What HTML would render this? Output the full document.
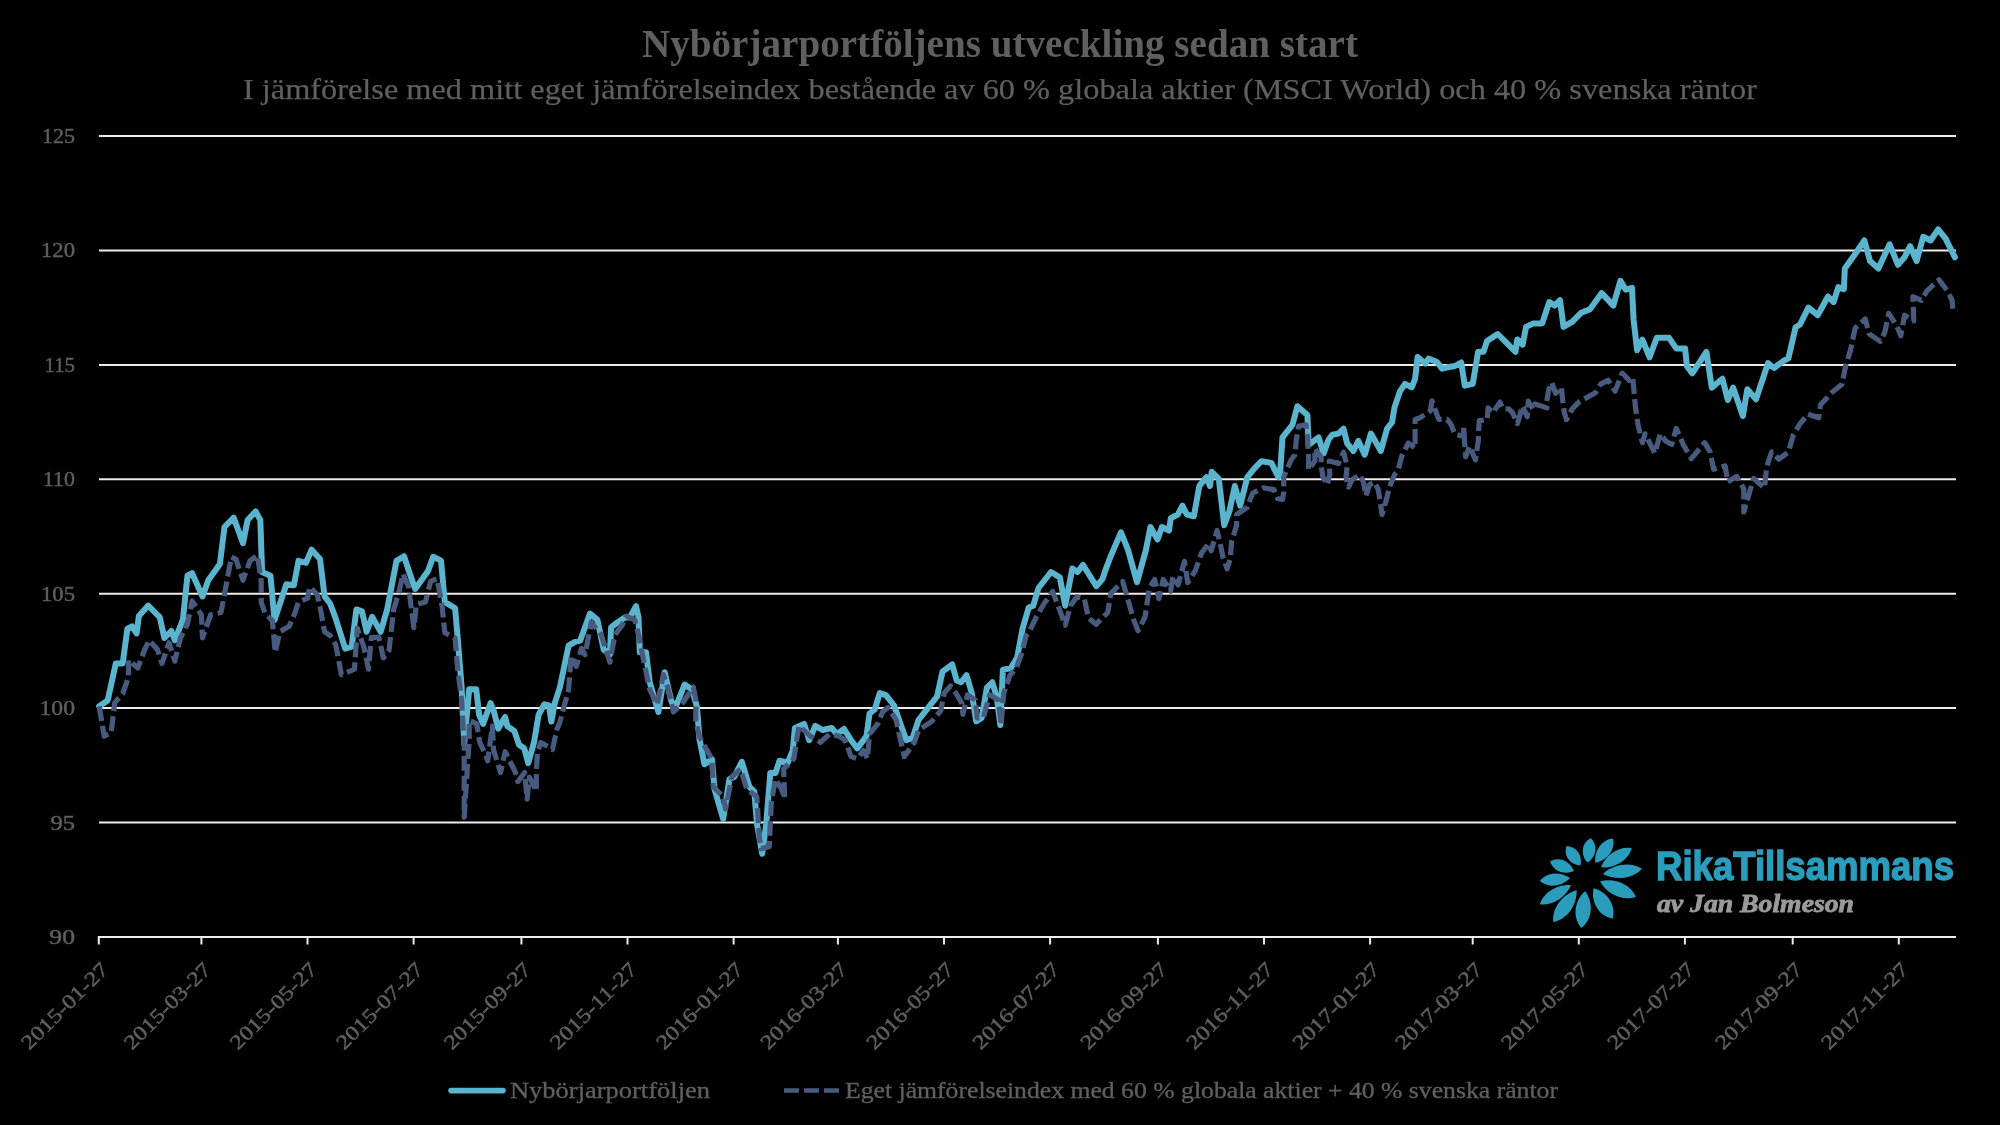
<!DOCTYPE html>
<html><head><meta charset="utf-8"><title>Nybörjarportföljens utveckling sedan start</title>
<style>
html,body{margin:0;padding:0;background:#000;}
body{width:2000px;height:1125px;overflow:hidden;}
svg{display:block;font-family:"Liberation Serif",serif;will-change:transform;}
</style></head><body>
<svg width="2000" height="1125" viewBox="0 0 2000 1125">
<rect width="2000" height="1125" fill="#000"/>
<line x1="99" y1="822.6" x2="1956" y2="822.6" stroke="#f0ece9" stroke-width="2"/>
<line x1="99" y1="708.1" x2="1956" y2="708.1" stroke="#f0ece9" stroke-width="2"/>
<line x1="99" y1="593.7" x2="1956" y2="593.7" stroke="#f0ece9" stroke-width="2"/>
<line x1="99" y1="479.3" x2="1956" y2="479.3" stroke="#f0ece9" stroke-width="2"/>
<line x1="99" y1="364.9" x2="1956" y2="364.9" stroke="#f0ece9" stroke-width="2"/>
<line x1="99" y1="250.4" x2="1956" y2="250.4" stroke="#f0ece9" stroke-width="2"/>
<line x1="99" y1="136.0" x2="1956" y2="136.0" stroke="#f0ece9" stroke-width="2"/>
<line x1="98" y1="937" x2="1956" y2="937" stroke="#f0ece9" stroke-width="2"/>
<line x1="98.8" y1="936" x2="98.8" y2="944.5" stroke="#f0ece9" stroke-width="2"/>
<line x1="201.4" y1="936" x2="201.4" y2="944.5" stroke="#f0ece9" stroke-width="2"/>
<line x1="307.5" y1="936" x2="307.5" y2="944.5" stroke="#f0ece9" stroke-width="2"/>
<line x1="413.6" y1="936" x2="413.6" y2="944.5" stroke="#f0ece9" stroke-width="2"/>
<line x1="521.4" y1="936" x2="521.4" y2="944.5" stroke="#f0ece9" stroke-width="2"/>
<line x1="627.5" y1="936" x2="627.5" y2="944.5" stroke="#f0ece9" stroke-width="2"/>
<line x1="733.6" y1="936" x2="733.6" y2="944.5" stroke="#f0ece9" stroke-width="2"/>
<line x1="837.9" y1="936" x2="837.9" y2="944.5" stroke="#f0ece9" stroke-width="2"/>
<line x1="944.0" y1="936" x2="944.0" y2="944.5" stroke="#f0ece9" stroke-width="2"/>
<line x1="1050.1" y1="936" x2="1050.1" y2="944.5" stroke="#f0ece9" stroke-width="2"/>
<line x1="1157.9" y1="936" x2="1157.9" y2="944.5" stroke="#f0ece9" stroke-width="2"/>
<line x1="1264.0" y1="936" x2="1264.0" y2="944.5" stroke="#f0ece9" stroke-width="2"/>
<line x1="1370.1" y1="936" x2="1370.1" y2="944.5" stroke="#f0ece9" stroke-width="2"/>
<line x1="1472.7" y1="936" x2="1472.7" y2="944.5" stroke="#f0ece9" stroke-width="2"/>
<line x1="1578.8" y1="936" x2="1578.8" y2="944.5" stroke="#f0ece9" stroke-width="2"/>
<line x1="1684.9" y1="936" x2="1684.9" y2="944.5" stroke="#f0ece9" stroke-width="2"/>
<line x1="1792.7" y1="936" x2="1792.7" y2="944.5" stroke="#f0ece9" stroke-width="2"/>
<line x1="1898.8" y1="936" x2="1898.8" y2="944.5" stroke="#f0ece9" stroke-width="2"/>
<text x="75" y="944.0" text-anchor="end" font-size="21" fill="#5f5f5f" stroke="#5f5f5f" stroke-width="0.45" textLength="25.7" lengthAdjust="spacingAndGlyphs">90</text>
<text x="75" y="829.6" text-anchor="end" font-size="21" fill="#5f5f5f" stroke="#5f5f5f" stroke-width="0.45" textLength="24.5" lengthAdjust="spacingAndGlyphs">95</text>
<text x="75" y="715.1" text-anchor="end" font-size="21" fill="#5f5f5f" stroke="#5f5f5f" stroke-width="0.45" textLength="35.5" lengthAdjust="spacingAndGlyphs">100</text>
<text x="75" y="600.7" text-anchor="end" font-size="21" fill="#5f5f5f" stroke="#5f5f5f" stroke-width="0.45" textLength="34" lengthAdjust="spacingAndGlyphs">105</text>
<text x="75" y="486.3" text-anchor="end" font-size="21" fill="#5f5f5f" stroke="#5f5f5f" stroke-width="0.45" textLength="32" lengthAdjust="spacingAndGlyphs">110</text>
<text x="75" y="371.9" text-anchor="end" font-size="21" fill="#5f5f5f" stroke="#5f5f5f" stroke-width="0.45" textLength="30.5" lengthAdjust="spacingAndGlyphs">115</text>
<text x="75" y="257.4" text-anchor="end" font-size="21" fill="#5f5f5f" stroke="#5f5f5f" stroke-width="0.45" textLength="34" lengthAdjust="spacingAndGlyphs">120</text>
<text x="75" y="143.0" text-anchor="end" font-size="21" fill="#5f5f5f" stroke="#5f5f5f" stroke-width="0.45" textLength="33" lengthAdjust="spacingAndGlyphs">125</text>
<text x="109.6" y="970.6" text-anchor="end" font-size="20.5" fill="#5f5f5f" stroke="#5f5f5f" stroke-width="0.45" transform="rotate(-45 109.6 970.6)" textLength="113.5" lengthAdjust="spacingAndGlyphs">2015-01-27</text>
<text x="212.2" y="970.6" text-anchor="end" font-size="20.5" fill="#5f5f5f" stroke="#5f5f5f" stroke-width="0.45" transform="rotate(-45 212.2 970.6)" textLength="113.5" lengthAdjust="spacingAndGlyphs">2015-03-27</text>
<text x="318.3" y="970.6" text-anchor="end" font-size="20.5" fill="#5f5f5f" stroke="#5f5f5f" stroke-width="0.45" transform="rotate(-45 318.3 970.6)" textLength="113.5" lengthAdjust="spacingAndGlyphs">2015-05-27</text>
<text x="424.4" y="970.6" text-anchor="end" font-size="20.5" fill="#5f5f5f" stroke="#5f5f5f" stroke-width="0.45" transform="rotate(-45 424.4 970.6)" textLength="113.5" lengthAdjust="spacingAndGlyphs">2015-07-27</text>
<text x="532.2" y="970.6" text-anchor="end" font-size="20.5" fill="#5f5f5f" stroke="#5f5f5f" stroke-width="0.45" transform="rotate(-45 532.2 970.6)" textLength="113.5" lengthAdjust="spacingAndGlyphs">2015-09-27</text>
<text x="638.3" y="970.6" text-anchor="end" font-size="20.5" fill="#5f5f5f" stroke="#5f5f5f" stroke-width="0.45" transform="rotate(-45 638.3 970.6)" textLength="113.5" lengthAdjust="spacingAndGlyphs">2015-11-27</text>
<text x="744.4" y="970.6" text-anchor="end" font-size="20.5" fill="#5f5f5f" stroke="#5f5f5f" stroke-width="0.45" transform="rotate(-45 744.4 970.6)" textLength="113.5" lengthAdjust="spacingAndGlyphs">2016-01-27</text>
<text x="848.7" y="970.6" text-anchor="end" font-size="20.5" fill="#5f5f5f" stroke="#5f5f5f" stroke-width="0.45" transform="rotate(-45 848.7 970.6)" textLength="113.5" lengthAdjust="spacingAndGlyphs">2016-03-27</text>
<text x="954.8" y="970.6" text-anchor="end" font-size="20.5" fill="#5f5f5f" stroke="#5f5f5f" stroke-width="0.45" transform="rotate(-45 954.8 970.6)" textLength="113.5" lengthAdjust="spacingAndGlyphs">2016-05-27</text>
<text x="1060.9" y="970.6" text-anchor="end" font-size="20.5" fill="#5f5f5f" stroke="#5f5f5f" stroke-width="0.45" transform="rotate(-45 1060.9 970.6)" textLength="113.5" lengthAdjust="spacingAndGlyphs">2016-07-27</text>
<text x="1168.7" y="970.6" text-anchor="end" font-size="20.5" fill="#5f5f5f" stroke="#5f5f5f" stroke-width="0.45" transform="rotate(-45 1168.7 970.6)" textLength="113.5" lengthAdjust="spacingAndGlyphs">2016-09-27</text>
<text x="1274.8" y="970.6" text-anchor="end" font-size="20.5" fill="#5f5f5f" stroke="#5f5f5f" stroke-width="0.45" transform="rotate(-45 1274.8 970.6)" textLength="113.5" lengthAdjust="spacingAndGlyphs">2016-11-27</text>
<text x="1380.9" y="970.6" text-anchor="end" font-size="20.5" fill="#5f5f5f" stroke="#5f5f5f" stroke-width="0.45" transform="rotate(-45 1380.9 970.6)" textLength="113.5" lengthAdjust="spacingAndGlyphs">2017-01-27</text>
<text x="1483.5" y="970.6" text-anchor="end" font-size="20.5" fill="#5f5f5f" stroke="#5f5f5f" stroke-width="0.45" transform="rotate(-45 1483.5 970.6)" textLength="113.5" lengthAdjust="spacingAndGlyphs">2017-03-27</text>
<text x="1589.6" y="970.6" text-anchor="end" font-size="20.5" fill="#5f5f5f" stroke="#5f5f5f" stroke-width="0.45" transform="rotate(-45 1589.6 970.6)" textLength="113.5" lengthAdjust="spacingAndGlyphs">2017-05-27</text>
<text x="1695.7" y="970.6" text-anchor="end" font-size="20.5" fill="#5f5f5f" stroke="#5f5f5f" stroke-width="0.45" transform="rotate(-45 1695.7 970.6)" textLength="113.5" lengthAdjust="spacingAndGlyphs">2017-07-27</text>
<text x="1803.5" y="970.6" text-anchor="end" font-size="20.5" fill="#5f5f5f" stroke="#5f5f5f" stroke-width="0.45" transform="rotate(-45 1803.5 970.6)" textLength="113.5" lengthAdjust="spacingAndGlyphs">2017-09-27</text>
<text x="1909.6" y="970.6" text-anchor="end" font-size="20.5" fill="#5f5f5f" stroke="#5f5f5f" stroke-width="0.45" transform="rotate(-45 1909.6 970.6)" textLength="113.5" lengthAdjust="spacingAndGlyphs">2017-11-27</text>
<polyline points="99.2,706.2 107.7,700.4 115.8,663.4 122.7,663.4 127.4,628.7 132.0,626.4 136.6,633.4 138.9,616.0 148.2,605.6 159.7,617.2 164.4,638.0 171.3,631.0 174.8,640.3 182.9,619.5 187.5,575.5 192.1,573.2 202.5,596.4 208.3,580.2 219.9,564.0 224.5,527.0 233.7,517.7 243.0,543.2 247.6,520.0 255.6,511.5 260.3,519.9 262.1,572.1 270.5,575.8 274.5,620.0 286.4,584.2 293.9,585.2 298.5,560.9 306.0,562.8 311.6,549.7 320.0,559.0 324.6,596.4 330.2,603.8 335.8,618.8 345.2,648.6 351.7,646.7 356.4,609.4 362.0,611.3 366.6,631.8 372.2,616.9 380.6,631.8 387.2,609.4 396.5,560.9 404.0,556.2 410.5,575.8 415.2,589.0 428.0,571.0 433.2,556.8 441.0,560.6 444.8,601.9 455.1,608.3 457.7,638.0 461.6,687.0 464.2,743.7 469.2,689.2 476.2,689.2 479.1,714.7 483.1,723.9 490.6,703.1 493.5,710.1 498.2,728.6 505.1,717.0 507.4,726.2 514.3,730.9 519.0,744.7 524.2,748.2 528.2,763.2 534.0,742.4 538.6,714.7 544.4,704.3 549.0,705.4 551.3,721.6 554.8,703.1 560.0,686.9 568.6,645.7 575.0,641.9 580.2,640.6 590.0,613.6 597.4,619.9 603.7,649.7 609.9,654.7 611.1,627.3 617.4,622.4 624.8,617.4 629.8,617.4 636.0,606.2 638.5,617.4 639.8,652.2 646.0,652.2 649.7,682.1 658.4,712.0 664.7,672.2 670.9,699.5 674.6,709.5 684.6,684.6 692.0,689.6 697.0,707.0 699.5,739.4 704.5,764.3 712.0,759.3 714.5,789.2 723.2,819.0 729.4,779.2 734.4,776.7 741.8,761.8 749.3,786.7 754.3,791.6 757.0,824.1 762.2,853.7 766.2,824.1 770.3,773.0 775.5,773.0 779.5,760.7 787.7,762.7 792.8,750.5 794.9,728.0 804.1,723.9 809.2,740.2 815.3,725.9 822.5,730.0 831.7,728.0 836.8,734.1 844.0,729.0 851.1,740.2 857.3,748.4 866.5,736.1 869.5,713.6 874.7,709.5 879.8,693.2 885.9,695.2 894.1,705.5 901.2,725.9 906.4,740.2 912.5,738.2 918.6,719.8 930.0,705.4 937.1,696.5 942.5,671.6 952.2,664.5 956.7,680.5 961.1,682.3 966.5,675.2 971.8,693.0 976.2,721.4 981.6,717.9 986.9,687.6 992.3,682.3 996.7,696.5 1000.3,725.0 1002.9,669.8 1010.9,668.1 1017.2,657.4 1022.5,628.9 1028.7,607.6 1033.2,605.8 1038.5,588.0 1051.0,572.0 1059.8,577.4 1065.2,605.8 1072.3,568.5 1077.6,572.0 1083.0,564.9 1087.4,572.0 1096.3,586.2 1102.5,579.1 1105.0,571.4 1110.3,557.2 1121.0,532.3 1128.1,550.1 1137.0,582.1 1145.9,550.1 1150.4,527.0 1157.5,539.4 1161.9,527.0 1169.0,530.5 1170.8,518.1 1177.9,514.5 1182.4,505.6 1186.8,514.5 1193.9,516.3 1199.3,486.0 1206.4,477.2 1210.0,486.0 1211.7,471.8 1218.8,478.9 1224.2,525.2 1229.5,511.0 1234.8,486.0 1240.2,505.6 1247.3,477.2 1254.4,468.3 1261.5,461.2 1271.3,462.9 1278.4,477.2 1280.0,474.7 1282.5,437.3 1292.4,424.9 1297.4,406.2 1307.4,414.9 1308.6,444.8 1318.6,437.3 1323.6,453.5 1328.5,439.8 1332.3,434.8 1338.5,433.6 1343.5,428.6 1347.2,443.5 1353.4,451.0 1358.4,441.0 1364.7,454.7 1370.9,433.6 1380.8,451.0 1387.1,428.6 1392.0,422.4 1394.5,407.4 1400.0,391.2 1405.0,383.9 1411.7,387.3 1415.1,378.8 1417.6,356.9 1425.2,363.6 1428.6,358.6 1437.0,362.0 1442.1,368.7 1448.9,367.0 1455.0,366.0 1461.2,362.5 1464.8,385.6 1472.8,383.8 1478.1,351.8 1483.5,351.8 1487.0,341.1 1497.7,334.0 1506.6,342.9 1515.5,351.8 1517.3,339.4 1522.6,344.7 1526.1,326.9 1533.3,323.4 1542.2,323.4 1549.3,302.0 1554.6,305.6 1560.0,300.2 1563.5,326.9 1572.4,321.6 1581.3,312.7 1590.2,309.1 1601.7,293.1 1613.3,305.6 1620.4,280.7 1625.8,289.6 1632.0,287.8 1633.6,320.0 1637.1,350.2 1642.4,339.6 1649.6,357.3 1656.7,337.8 1669.1,337.8 1676.2,348.4 1685.1,348.4 1686.9,366.2 1692.2,373.3 1706.4,352.0 1711.8,387.6 1722.4,378.7 1727.8,400.0 1733.1,387.6 1742.9,416.0 1747.3,389.3 1756.0,399.2 1768.0,363.2 1774.0,368.0 1783.6,360.8 1788.4,358.4 1795.6,327.2 1800.0,324.5 1808.4,307.7 1817.7,315.2 1828.0,296.5 1833.6,302.1 1838.3,287.2 1843.9,289.1 1844.8,268.5 1854.1,255.5 1864.4,240.5 1870.0,261.1 1878.4,268.5 1889.6,244.3 1898.0,264.8 1904.5,257.3 1910.1,246.1 1916.6,261.1 1923.2,236.8 1930.6,240.5 1938.1,229.3 1945.6,238.7 1954.9,257.3" fill="none" stroke="#5bb4cd" stroke-width="6" stroke-linejoin="round" stroke-linecap="round"/>
<polyline points="99.2,706.2 104.2,736.2 111.2,732.8 114.7,702.7 122.7,693.5 128.5,677.3 128.5,660.0 137.8,668.0 144.7,649.5 149.3,640.3 157.4,649.5 162.0,663.4 169.0,642.6 174.8,661.0 180.5,638.0 187.5,624.0 192.1,601.0 201.4,614.9 202.5,638.0 210.6,614.9 221.0,612.5 224.5,594.0 231.4,557.0 236.0,559.4 243.0,580.2 250.0,560.9 257.5,555.3 261.2,581.4 261.2,602.0 264.9,613.2 272.4,620.6 275.2,652.3 279.9,631.8 289.2,626.2 294.8,613.2 298.5,602.0 307.8,598.2 309.7,587.0 317.2,594.5 320.9,611.3 324.6,631.8 330.2,635.5 335.8,644.9 341.4,674.7 354.5,669.1 357.3,628.1 363.8,646.7 368.5,669.1 371.3,637.4 378.8,637.4 383.4,657.9 389.0,650.5 393.7,609.4 399.3,590.8 403.0,574.0 408.6,587.0 413.9,627.7 416.4,604.5 425.5,601.9 430.6,581.3 437.1,578.7 442.2,607.0 444.8,632.8 455.1,638.0 457.7,668.9 461.6,699.9 464.2,746.3 464.2,817.2 469.2,740.1 469.2,720.5 476.8,723.9 479.7,742.4 485.4,754.0 487.7,760.9 492.4,726.2 493.5,749.4 497.0,760.9 500.5,772.5 505.1,751.7 509.7,760.9 515.5,772.5 517.8,781.7 524.7,772.5 527.1,799.1 529.4,777.1 536.3,791.0 536.3,772.5 537.5,751.7 540.9,742.4 552.5,749.4 557.1,728.6 559.6,723.1 568.6,689.6 571.2,656.0 576.3,666.4 581.5,648.3 585.0,654.7 591.2,622.4 601.2,634.8 609.9,662.2 614.9,634.8 622.3,624.9 626.1,616.1 634.8,619.9 638.5,634.8 643.5,659.7 649.7,689.6 657.2,704.5 663.4,674.6 668.4,689.6 673.4,712.0 683.3,702.0 693.3,687.1 695.8,699.5 695.8,721.9 699.5,736.9 712.0,759.3 713.2,786.7 723.2,796.6 725.6,809.1 731.9,776.7 740.6,769.2 746.8,789.2 756.8,796.6 759.3,836.5 761.1,848.6 769.3,846.6 770.3,824.1 771.4,801.6 775.5,779.1 781.6,789.3 784.7,798.5 783.6,768.9 793.9,758.6 797.0,738.2 799.0,725.9 810.2,736.1 814.3,738.2 820.5,742.3 829.7,734.1 838.9,736.1 845.0,740.2 851.1,756.6 857.3,758.6 863.4,750.5 867.5,758.6 869.5,734.1 877.7,723.9 882.8,711.6 888.0,707.5 896.1,719.8 899.2,734.1 904.3,756.6 914.5,742.3 918.6,730.0 931.8,721.4 940.7,710.8 944.2,693.0 950.5,685.9 955.8,693.0 962.0,703.6 962.9,714.3 967.4,694.8 975.4,700.1 977.1,717.9 983.4,717.9 989.6,694.8 998.5,700.1 1001.1,725.0 1003.8,693.0 1010.0,675.2 1016.3,668.1 1021.6,653.8 1026.0,636.1 1029.6,630.7 1036.7,616.5 1043.8,604.0 1052.7,591.6 1058.1,605.8 1065.2,625.4 1070.5,605.8 1076.7,596.9 1084.3,598.7 1088.5,617.9 1096.0,624.3 1107.7,612.5 1110.9,593.3 1122.7,581.6 1128.0,599.7 1133.3,618.9 1138.1,630.7 1145.1,616.8 1149.3,588.0 1154.7,579.5 1158.9,598.7 1163.2,579.5 1170.7,591.2 1172.8,576.3 1178.1,584.8 1184.5,561.3 1187.7,582.7 1195.2,570.9 1201.6,552.8 1209.1,543.2 1211.2,550.7 1217.1,530.5 1220.8,546.4 1222.9,557.1 1227.2,568.8 1230.4,558.1 1231.5,542.1 1236.6,525.2 1236.6,514.5 1247.3,507.4 1249.1,502.1 1252.6,493.2 1263.3,487.8 1274.0,489.6 1277.5,498.5 1282.5,499.5 1283.7,492.1 1283.7,477.1 1286.2,470.9 1291.2,459.7 1294.9,454.7 1296.2,441.0 1297.4,433.6 1298.7,426.1 1306.1,424.9 1307.4,436.1 1308.6,457.2 1308.4,469.7 1314.9,461.0 1314.9,448.5 1321.1,457.2 1321.1,464.7 1322.9,477.1 1327.3,484.6 1329.8,474.7 1329.2,461.0 1338.5,463.4 1343.5,452.2 1347.2,465.9 1346.0,477.1 1348.5,487.1 1352.2,479.6 1359.7,474.7 1363.4,482.1 1365.9,495.8 1369.6,484.6 1374.6,482.1 1378.3,489.6 1382.1,514.5 1385.8,502.0 1389.5,487.1 1394.5,474.7 1398.3,469.7 1401.6,456.5 1408.3,443.0 1415.1,448.1 1415.1,419.4 1420.2,417.7 1430.3,410.9 1432.0,400.8 1438.7,419.4 1447.2,419.4 1451.0,424.5 1454.9,434.3 1463.7,436.3 1463.7,427.5 1464.7,444.1 1465.6,456.8 1469.6,446.1 1475.4,459.8 1478.4,440.2 1478.4,433.3 1479.3,420.6 1487.2,419.7 1488.1,407.9 1493.0,412.8 1499.9,402.1 1502.8,408.9 1508.7,408.9 1512.6,412.8 1517.5,423.6 1522.4,406.0 1527.3,416.7 1528.2,401.1 1533.1,408.9 1535.1,404.0 1546.8,407.9 1546.8,401.1 1548.8,389.3 1551.7,382.5 1555.6,393.3 1561.5,387.4 1562.5,399.1 1564.4,412.8 1566.4,419.7 1572.4,408.7 1579.5,401.6 1595.5,392.7 1600.9,383.8 1608.0,380.3 1615.1,391.0 1622.2,373.2 1629.3,380.3 1632.7,376.9 1635.3,405.3 1638.0,424.9 1642.4,442.7 1645.1,433.8 1654.9,453.3 1660.2,433.8 1665.6,440.9 1671.8,444.4 1676.2,428.4 1683.3,444.4 1691.3,458.7 1704.7,442.7 1710.0,451.6 1713.6,469.3 1725.1,465.8 1727.8,481.8 1736.7,476.4 1743.8,488.9 1743.8,512.0 1753.6,478.4 1764.4,488.0 1766.8,466.4 1771.6,452.0 1778.8,459.2 1788.4,452.0 1793.2,435.2 1800.4,423.2 1801.9,421.6 1807.5,414.1 1818.7,417.8 1820.5,404.8 1832.7,391.7 1842.0,384.2 1845.7,365.6 1850.4,350.6 1855.1,328.2 1865.3,318.9 1869.1,333.9 1880.3,341.3 1884.9,332.0 1888.7,313.3 1897.1,326.4 1900.8,335.7 1904.5,315.2 1913.8,320.8 1912.9,296.5 1921.3,300.3 1926.9,290.9 1939.0,279.7 1947.4,290.9 1952.1,300.3 1953.0,311.5" fill="none" stroke="#485b7e" stroke-width="5.2" stroke-linejoin="round" stroke-linecap="butt" stroke-dasharray="15 5"/>
<text x="642" y="57" font-size="40" font-weight="bold" fill="#5f5f5f" textLength="716" lengthAdjust="spacingAndGlyphs">Nybörjarportföljens utveckling sedan start</text>
<text x="243" y="99" font-size="30" fill="#5f5f5f" stroke="#5f5f5f" stroke-width="0.25" textLength="1514" lengthAdjust="spacingAndGlyphs">I jämförelse med mitt eget jämförelseindex bestående av 60 % globala aktier (MSCI World) och 40 % svenska räntor</text>
<line x1="451" y1="1090.6" x2="503" y2="1090.6" stroke="#5bb4cd" stroke-width="5.6" stroke-linecap="round"/>
<text x="510" y="1098" font-size="23" fill="#5f5f5f" stroke="#5f5f5f" stroke-width="0.35" textLength="200" lengthAdjust="spacingAndGlyphs">Nybörjarportföljen</text>
<line x1="784" y1="1090.5" x2="839" y2="1090.5" stroke="#485b7e" stroke-width="4.5" stroke-dasharray="15 5"/>
<text x="845" y="1098" font-size="23" fill="#5f5f5f" stroke="#5f5f5f" stroke-width="0.35" textLength="713" lengthAdjust="spacingAndGlyphs">Eget jämförelseindex med 60 % globala aktier + 40 % svenska räntor</text>
<path d="M1587.4,862.7 C1596.7,856.3 1598.2,845.2 1590.7,837.9 C1581.5,843.0 1580.0,854.1 1587.4,862.7Z" fill="#2a9dbd"/>
<path d="M1595.3,862.7 C1607.4,860.3 1615.4,849.4 1613.1,838.4 C1601.8,839.5 1593.9,850.4 1595.3,862.7Z" fill="#2a9dbd"/>
<path d="M1600.9,867.3 C1614.6,868.7 1628.5,860.1 1631.7,848.2 C1619.6,845.8 1605.7,854.5 1600.9,867.3Z" fill="#2a9dbd"/>
<path d="M1602.8,873.9 C1615.7,881.0 1633.3,878.7 1642.0,868.7 C1631.1,861.4 1613.4,863.7 1602.8,873.9Z" fill="#2a9dbd"/>
<path d="M1600.0,881.3 C1607.1,894.6 1623.2,901.5 1635.9,896.7 C1630.6,884.2 1614.5,877.3 1600.0,881.3Z" fill="#2a9dbd"/>
<path d="M1593.5,888.3 C1590.7,902.8 1599.3,916.5 1612.6,918.7 C1616.3,905.7 1607.7,892.1 1593.5,888.3Z" fill="#2a9dbd"/>
<path d="M1585.1,891.1 C1573.9,901.2 1572.2,917.8 1581.3,928.0 C1592.3,919.8 1594.0,903.2 1585.1,891.1Z" fill="#2a9dbd"/>
<path d="M1576.7,890.2 C1562.1,894.1 1551.6,908.4 1553.3,921.9 C1566.7,919.6 1577.2,905.3 1576.7,890.2Z" fill="#2a9dbd"/>
<path d="M1571.1,885.1 C1557.5,883.9 1543.4,892.5 1539.8,904.2 C1551.8,906.3 1565.9,897.7 1571.1,885.1Z" fill="#2a9dbd"/>
<path d="M1570.1,878.1 C1560.3,870.9 1546.6,872.1 1539.8,880.9 C1548.1,888.2 1561.8,886.9 1570.1,878.1Z" fill="#2a9dbd"/>
<path d="M1573.9,871.1 C1569.8,860.7 1559.1,856.3 1550.1,861.3 C1552.9,871.2 1563.7,875.6 1573.9,871.1Z" fill="#2a9dbd"/>
<path d="M1580.4,865.5 C1582.7,855.0 1576.4,846.4 1566.4,846.3 C1563.4,855.9 1569.7,864.5 1580.4,865.5Z" fill="#2a9dbd"/>
<text x="1656" y="880" font-family="Liberation Sans, sans-serif" font-weight="bold" font-size="40.5" fill="#2a9dbd" stroke="#2a9dbd" stroke-width="1.4" textLength="298" lengthAdjust="spacingAndGlyphs">RikaTillsammans</text>
<text x="1657" y="912" font-weight="bold" font-style="italic" font-size="26" fill="#9a9a9a" stroke="#9a9a9a" stroke-width="0.9" textLength="197" lengthAdjust="spacingAndGlyphs">av Jan Bolmeson</text>
</svg>
</body></html>
